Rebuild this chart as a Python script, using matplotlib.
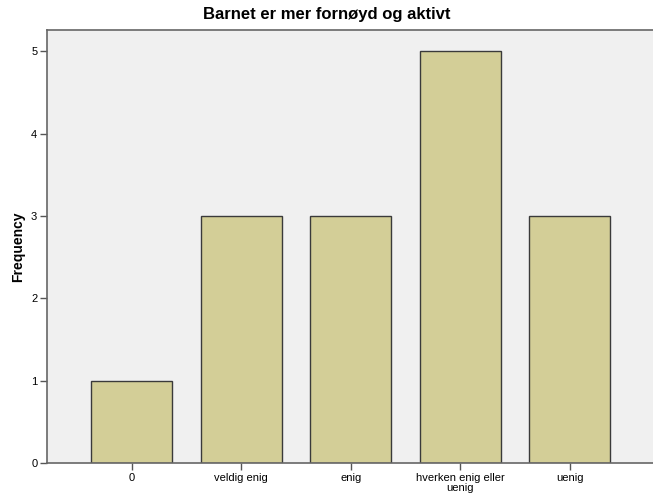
import matplotlib
matplotlib.use("Agg")
import matplotlib.pyplot as plt

categories = ["0", "veldig enig", "enig", "hverken enig eller\nuenig", "uenig"]
frequencies = [1, 3, 3, 5, 3]
yticks = [0, 1, 2, 3, 4, 5]

plt.rcParams['font.family'] = ['Liberation Sans', 'DejaVu Sans']

W, H = 653, 498
fig = plt.figure(figsize=(W / 100, H / 100), dpi=100)
left, right, top, bottom = 47, 653, 30, 463
ax = fig.add_axes([left / W, 1 - bottom / H, (right - left) / W, (bottom - top) / H])
ax.set_facecolor('#F0F0F0')

x = list(range(len(categories)))
ax.bar(x, frequencies, width=0.74, color='#D3CE97', edgecolor='#3a3a3a', linewidth=1.0, zorder=2)

ax.set_xlim(-0.773, 4.76)
ax.set_ylim(0, 5.26)
ax.set_xticks(x)
ax.set_xticklabels(categories, fontsize=8, linespacing=1.0)
ax.set_yticks(yticks)
ax.set_yticklabels([str(v) for v in yticks], fontsize=8)
ax.tick_params(axis='both', length=5, width=1, color='#555555', pad=2)

for s in ['left', 'bottom', 'top']:
    ax.spines[s].set_color('#666666')
    ax.spines[s].set_linewidth(1.2)
ax.spines['right'].set_visible(False)

ax.set_ylabel('Frequency', fontsize=10, fontweight='bold', labelpad=4)
fig.text(0.5, 1 - 14 / H, 'Barnet er mer fornøyd og aktivt',
         ha='center', va='center', fontsize=12, fontweight='bold')

fig.savefig('out.png', dpi=100)
